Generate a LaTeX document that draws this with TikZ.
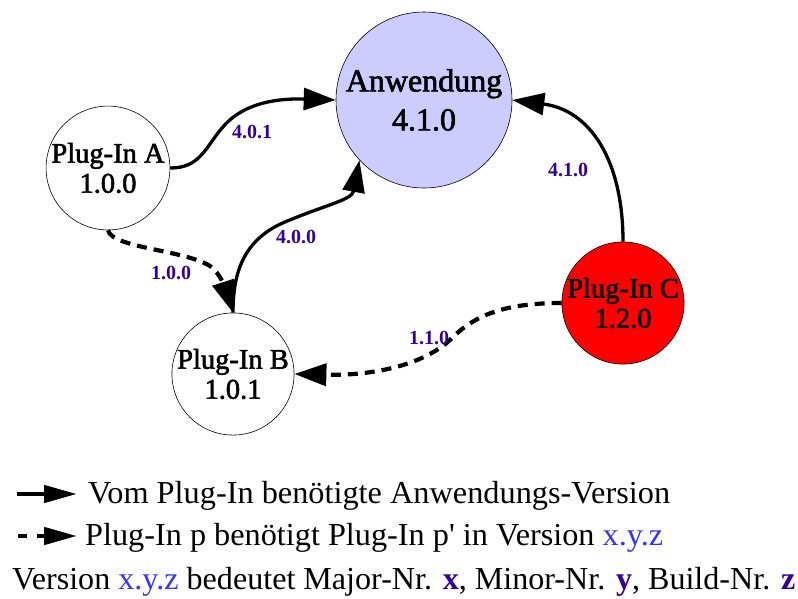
\documentclass[tikz,border=0pt]{standalone}
\usepackage{fontspec}
\usepackage{graphicx}
\setmainfont{Liberation Serif}
\newfontfamily\nodefont{Liberation Serif}[FakeBold=2]
\newfontfamily\plainserif{Liberation Serif}
\usetikzlibrary{arrows.meta}
\definecolor{appfill}{RGB}{204,204,255}
\definecolor{pluginc}{RGB}{255,0,0}
\definecolor{verlabel}{RGB}{51,0,153}
\definecolor{xyzblue}{RGB}{51,51,255}

\begin{document}
\begin{tikzpicture}[x=1pt,y=-1pt,
  plugin/.style={circle,draw=black,line width=0.6pt,minimum size=121pt,inner sep=0pt,
    align=center,font=\nodefont\fontsize{28.5}{30}\selectfont},
  dep/.style={line width=3.3pt,-{Triangle[length=32pt,width=22pt]}},
  optdep/.style={dep,line width=4.2pt,dash pattern=on 10pt off 7pt},
  ver/.style={font=\fontsize{20}{20}\selectfont\bfseries,text=verlabel,inner sep=0pt},
  legendtext/.style={font=\fontsize{32}{32}\selectfont,inner sep=0pt,anchor=base west},
  legendarrow/.style={line width=4.5pt,-{Triangle[length=33pt,width=17pt]}}]
\useasboundingbox (0,0) rectangle (798,598);

% components
\node[plugin,fill=appfill,minimum size=176pt,font=\nodefont\fontsize{32}{39}\selectfont] (app) at (424,100) {Anwendung\\4.1.0};
\node[plugin,fill=white] (pa) at (108,168) {Plug-In A\\1.0.0};
\node[plugin,fill=white] (pb) at (233,374) {Plug-In B\\1.0.1};
\node[plugin,fill=pluginc] (pc) at (623,303) {Plug-In C\\1.2.0};

% required application versions
\draw[dep] (pa.east) .. controls (200,168) and (205,148) .. (222,128)
  .. controls (240,106) and (270,98) .. (app.west);
\draw[dep] (pb.north) .. controls (233,275) and (242,240) .. (285,222)
  .. controls (325,205) and (352,200) .. (app.223);
\draw[dep] (pc.north) .. controls (623,160) and (590,110) .. (app.east);

% required plug-in versions
\draw[optdep] (pa.south) .. controls (112,248) and (185,250) .. (210,266)
  .. controls (220,273) and (225,288) .. (pb.north);
\draw[optdep] (pc.west) .. controls (505,303) and (475,315) .. (452,338)
  .. controls (428,362) and (380,376) .. (pb.east);

% version labels
\node[ver] (l401) at (252,132) {4.0.1};
\node[ver] (l400) at (296,237) {4.0.0};
\node[ver] (l100) at (171,273) {1.0.0};
\node[ver] (l110) at (429,338) {1.1.0};
\node[ver] (l410) at (568,170) {4.1.0};

% legend
\coordinate (s1) at (17,494);
\coordinate (e1) at (77,494);
\coordinate (s2) at (18,536);
\coordinate (e2) at (77,536);
\draw[legendarrow] (s1) -- (e1);
\draw[legendarrow,dash pattern=on 9pt off 10pt] (s2) -- (e2);
\node[legendtext] (t1) at (88,503) {\resizebox{582pt}{\height}{Vom Plug-In benötigte Anwendungs-Version}};
\node[legendtext] (t2) at (85,545) {\resizebox{578pt}{\height}{Plug-In p benötigt Plug-In p{\plainserif'} in Version \textcolor{xyzblue}{x.y.z}}};
\node[legendtext] (t3) at (12,589) {\resizebox{783pt}{\height}{Version \textcolor{xyzblue}{x.y.z} bedeutet Major-Nr. \textcolor{verlabel}{\bfseries x}, Minor-Nr. \textcolor{verlabel}{\bfseries y}, Build-Nr. \textcolor{verlabel}{\bfseries z}}};
\end{tikzpicture}
\end{document}
